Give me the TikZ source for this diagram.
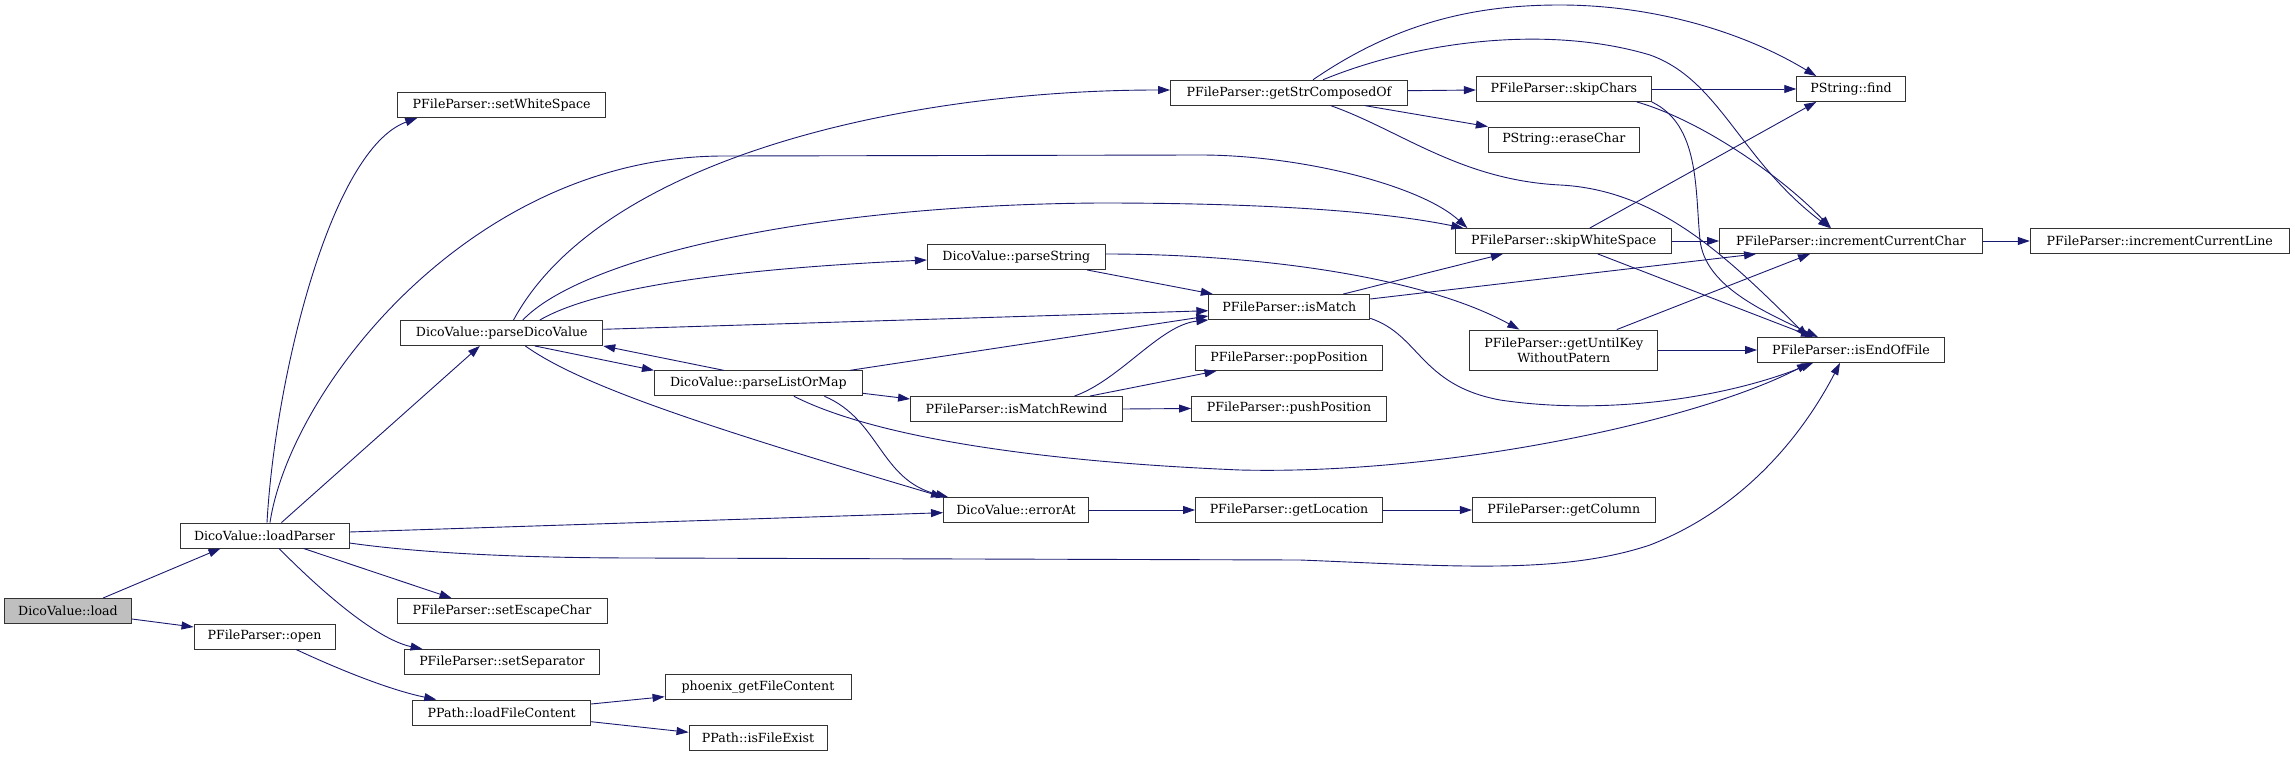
\documentclass[tikz,border=0pt]{standalone}
\usepackage{fontspec}
\newfontfamily\nodefont{DejaVu Serif}
\usetikzlibrary{arrows.meta,calc}
\definecolor{mblue}{HTML}{191970}
\definecolor{rootgray}{HTML}{BFBFBF}
\tikzset{
  fn/.style={draw=black!80, line width=0.9pt, fill=white, minimum height=25pt, inner sep=0pt,
    font={\nodefont\fontsize{12.6}{15}\selectfont}},
  root/.style={fn, fill=rootgray},
  call/.style={draw=mblue, line width=0.9pt, -{Triangle[length=12pt,width=8pt]}, mblue}
}
\begin{document}
\begin{tikzpicture}[x=1pt,y=-1pt]
\useasboundingbox (0,0) rectangle (2295,757);
% nodes
\node[root, minimum width=127pt] (load) at (68,611) {DicoValue::load};
\node[fn, minimum width=169pt] (loadParser) at (264.5,535.5) {DicoValue::loadParser};
\node[fn, minimum width=141pt] (open) at (264.5,636.5) {PFileParser::open};
\node[fn, minimum width=208pt] (setWhiteSpace) at (501.7,105) {PFileParser::setWhiteSpace};
\node[fn, minimum width=202pt] (parseDicoValue) at (501.8,333) {DicoValue::parseDicoValue};
\node[fn, minimum width=210pt] (setEscapeChar) at (502,611) {PFileParser::setEscapeChar};
\node[fn, minimum width=195pt] (setSeparator) at (502,662) {PFileParser::setSeparator};
\node[fn, minimum width=178pt] (loadFileContent) at (501.7,712.5) {PPath::loadFileContent};
\node[fn, minimum width=208pt] (parseListOrMap) at (758.4,383.3) {DicoValue::parseListOrMap};
\node[fn, minimum width=186pt] (phoenix) at (758,687) {phoenix\_getFileContent};
\node[fn, minimum width=138pt] (isFileExist) at (758,738) {PPath::isFileExist};
\node[fn, minimum width=178pt] (parseString) at (1016.3,257) {DicoValue::parseString};
\node[fn, minimum width=212pt] (isMatchRewind) at (1016.5,409) {PFileParser::isMatchRewind};
\node[fn, minimum width=145pt] (errorAt) at (1016,510) {DicoValue::errorAt};
\node[fn, minimum width=237pt] (getStrComposedOf) at (1289,92.7) {PFileParser::getStrComposedOf};
\node[fn, minimum width=161pt] (isMatch) at (1289.3,307) {PFileParser::isMatch};
\node[fn, minimum width=187pt] (popPosition) at (1289,358) {PFileParser::popPosition};
\node[fn, minimum width=195pt] (pushPosition) at (1289,408.5) {PFileParser::pushPosition};
\node[fn, minimum width=187pt] (getLocation) at (1289,510) {PFileParser::getLocation};
\node[fn, minimum width=175pt] (skipChars) at (1563.8,89) {PFileParser::skipChars};
\node[fn, minimum width=151pt] (eraseChar) at (1563.8,139.5) {PString::eraseChar};
\node[fn, minimum width=216pt] (skipWhiteSpace) at (1563.8,241) {PFileParser::skipWhiteSpace};
\node[fn, minimum width=188pt, minimum height=40pt, align=center, font={\nodefont\fontsize{12.6}{15}\selectfont}] (getUntilKey) at (1563.8,350) {PFileParser::getUntilKey\\WithoutPatern};
\node[fn, minimum width=183pt] (getColumn) at (1563.8,510) {PFileParser::getColumn};
\node[fn, minimum width=108.6pt] (find) at (1851,89) {PString::find};
\node[fn, minimum width=263pt] (incrementCurrentChar) at (1851,241) {PFileParser::incrementCurrentChar};
\node[fn, minimum width=187pt] (isEndOfFile) at (1851,350) {PFileParser::isEndOfFile};
\node[fn, minimum width=259pt] (incrementCurrentLine) at (2159.7,241) {PFileParser::incrementCurrentLine};
% edges
\draw[call] ($(load.north)+(35,0)$) -- ($(loadParser.south)+(-44,0)$);
\draw[call] ($(load.east)+(0,8)$) -- ($(open.west)+(0,-9.5)$);
\draw[call] ($(loadParser.north)+(2.5,0)$) .. controls (275,380) and (330,150) .. ($(setWhiteSpace.south west)+(20,0)$);
\draw[call] ($(loadParser.north)+(17,0)$) -- ($(parseDicoValue.south)+(-22,0)$);
\draw[call] ($(loadParser.north)+(5.5,0)$) .. controls (290,390) and (470,156) .. (724,156) -- (1200,155) .. controls (1300,155) and (1420,185) .. ($(skipWhiteSpace.north west)+(12,0)$);
\draw[call] ($(loadParser.east)+(0,-3.5)$) -- ($(errorAt.west)+(0,2.7)$);
\draw[call] ($(loadParser.east)+(0,7.5)$) .. controls (420,553) and (520,558) .. (640,558) -- (1300,560) .. controls (1450,566) and (1560,575) .. (1650,545) .. controls (1740,510) and (1800,440) .. ($(isEndOfFile.south)+(-11,0)$);
\draw[call] ($(loadParser.south)+(39,0)$) -- ($(setEscapeChar.north west)+(55,0)$);
\draw[call] ($(loadParser.south)+(14.5,0)$) .. controls (330,600) and (380,640) .. ($(setSeparator.north west)+(18.5,0)$);
\draw[call] ($(open.south)+(31.5,0)$) .. controls (340,670) and (390,690) .. ($(loadFileContent.north west)+(24,0)$);
\draw[call] ($(loadFileContent.east)+(0,-8.5)$) -- ($(phoenix.west)+(0,9.7)$);
\draw[call] ($(loadFileContent.east)+(0,9.2)$) -- ($(isFileExist.west)+(0,-5.7)$);
\draw[call] ($(parseDicoValue.north)+(11.7,0)$) .. controls (600,160) and (900,90) .. ($(getStrComposedOf.west)+(0,-2.7)$);
\draw[call] ($(parseDicoValue.north)+(21,0)$) .. controls (580,260) and (800,205) .. (1100,203) .. controls (1300,203) and (1400,215) .. ($(skipWhiteSpace.north west)+(8,0)$);
\draw[call] ($(parseDicoValue.north)+(38,0)$) .. controls (600,285) and (750,268) .. ($(parseString.west)+(0,3)$);
\draw[call] ($(parseDicoValue.east)+(0,-3.7)$) -- ($(isMatch.west)+(0,3.7)$);
\draw[call] ($(parseDicoValue.south)+(33,0)$) -- (parseListOrMap.north west);
\draw[call] ($(parseListOrMap.north)+(-34.5,0)$) -- (parseDicoValue.south east);
\draw[call] ($(parseDicoValue.south)+(23.5,0)$) .. controls (580,385) and (700,425) .. (errorAt.north west);
\draw[call] ($(parseListOrMap.north)+(91.5,0)$) -- ($(isMatch.west)+(0,9)$);
\draw[call] ($(parseListOrMap.east)+(0,10)$) -- ($(isMatchRewind.west)+(0,-10)$);
\draw[call] ($(parseListOrMap.south)+(66,0)$) .. controls (880,420) and (880,480) .. ($(errorAt.north west)+(5,0)$);
\draw[call] ($(parseListOrMap.south)+(35.5,0)$) .. controls (860,430) and (1000,460) .. (1240,470) .. controls (1450,475) and (1700,420) .. ($(isEndOfFile.south)+(-42,0)$);
\draw[call] ($(parseString.south)+(70.7,0)$) -- ($(isMatch.north west)+(4.5,0)$);
\draw[call] ($(parseString.east)+(0,-3)$) .. controls (1250,254) and (1420,275) .. ($(getUntilKey.north west)+(50,0)$);
\draw[call] ($(isMatchRewind.north)+(58,0)$) .. controls (1120,380) and (1160,325) .. (isMatch.south west);
\draw[call] ($(isMatchRewind.north)+(73.5,0)$) -- ($(popPosition.south west)+(21.5,0)$);
\draw[call] (isMatchRewind.east) -- (pushPosition.west);
\draw[call] (errorAt.east) -- (getLocation.west);
\draw[call] (getLocation.east) -- (getColumn.west);
\draw[call] ($(getStrComposedOf.north)+(24,0)$) .. controls (1400,20) and (1480,5) .. (1560,5) .. controls (1650,5) and (1740,30) .. ($(find.north west)+(20,0)$);
\draw[call] ($(getStrComposedOf.north)+(34,0)$) .. controls (1420,40) and (1550,25) .. (1650,55) .. controls (1720,80) and (1740,160) .. ($(incrementCurrentChar.north)+(-21,0)$);
\draw[call] ($(getStrComposedOf.east)+(0,-2)$) -- ($(skipChars.west)+(0,1)$);
\draw[call] ($(getStrComposedOf.south)+(76,0)$) -- (eraseChar.north west);
\draw[call] ($(getStrComposedOf.south)+(41.7,0)$) .. controls (1400,130) and (1460,180) .. (1560,185) .. controls (1660,190) and (1730,260) .. ($(isEndOfFile.north)+(-43,0)$);
\draw[call] ($(isMatch.north)+(54,0)$) -- ($(skipWhiteSpace.south west)+(47.5,0)$);
\draw[call] ($(isMatch.east)+(0,-8)$) -- ($(incrementCurrentChar.south west)+(37,0)$);
\draw[call] ($(isMatch.east)+(0,11.3)$) .. controls (1420,335) and (1420,385) .. (1500,400) .. controls (1600,415) and (1720,400) .. ($(isEndOfFile.south)+(-38,0)$);
\draw[call] (skipChars.east) -- (find.west);
\draw[call] ($(skipChars.south)+(73,0)$) .. controls (1700,120) and (1780,175) .. ($(incrementCurrentChar.north)+(-20,0)$);
\draw[call] (skipChars.south east) .. controls (1700,125) and (1695,190) .. (1700,240) .. controls (1705,285) and (1760,310) .. ($(isEndOfFile.north)+(-33,0)$);
\draw[call] ($(skipWhiteSpace.north)+(26,0)$) -- ($(find.south west)+(20,0)$);
\draw[call] (skipWhiteSpace.east) -- (incrementCurrentChar.west);
\draw[call] ($(skipWhiteSpace.south)+(34,0)$) -- ($(isEndOfFile.north)+(-38,0)$);
\draw[call] ($(getUntilKey.north)+(53,0)$) -- ($(incrementCurrentChar.south)+(-41,0)$);
\draw[call] (getUntilKey.east) -- (isEndOfFile.west);
\draw[call] (incrementCurrentChar.east) -- (incrementCurrentLine.west);
\end{tikzpicture}
\end{document}
